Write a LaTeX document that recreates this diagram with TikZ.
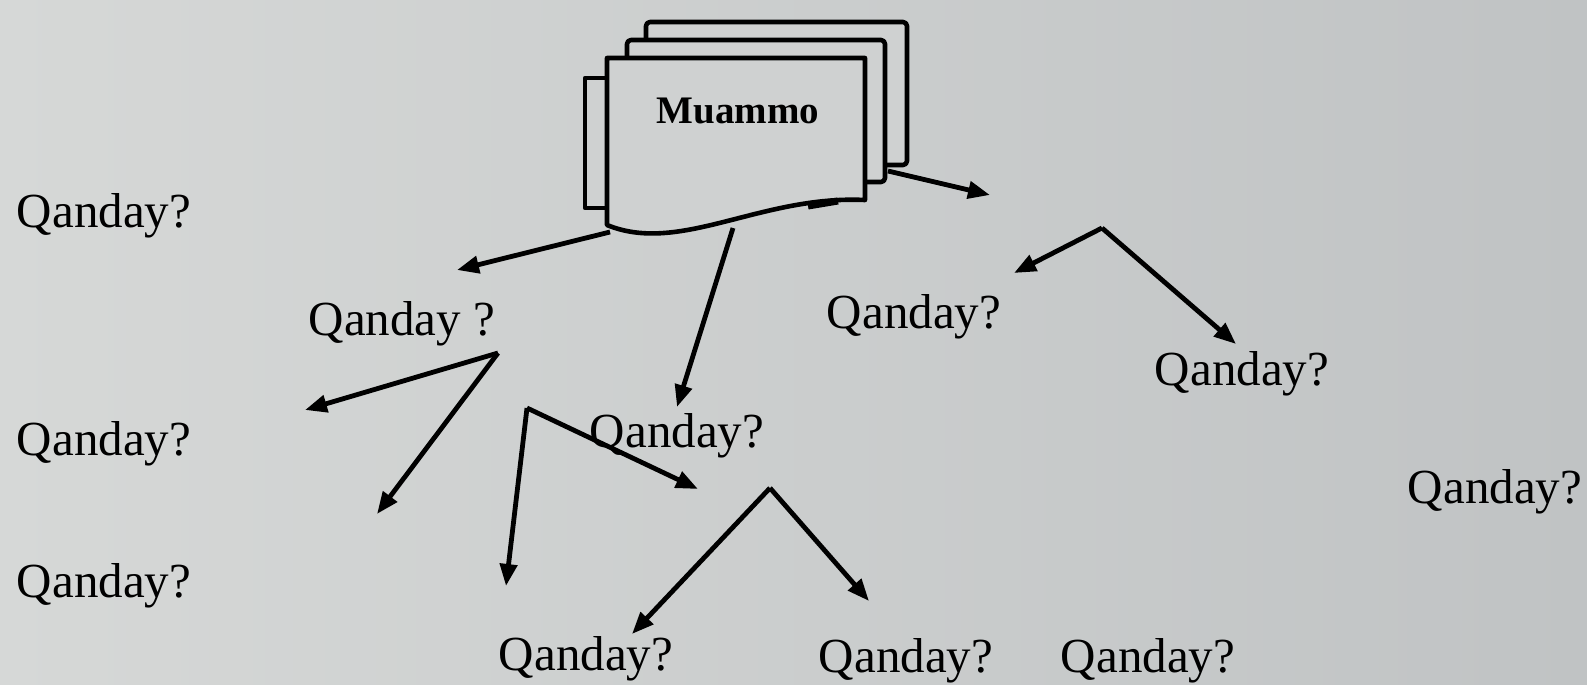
\documentclass[tikz,border=0pt]{standalone}
\usepackage{fontspec}
\setmainfont{Liberation Serif}
\usetikzlibrary{arrows.meta}
\definecolor{bgL}{RGB}{214,216,215}
\definecolor{bgR}{RGB}{192,195,196}
\definecolor{docfill}{RGB}{207,209,209}
\tikzset{
  q/.style={anchor=base,inner sep=0pt,font=\fontsize{24.5}{29}\selectfont},
  arr/.style={line width=2.4pt,-{Triangle[length=11pt,width=8.5pt]}},
  doc/.style={line width=2.3pt,fill=docfill,line join=round},
}
\begin{document}
\begin{tikzpicture}[x=0.5pt,y=-0.5pt]
\shade[left color=bgL,right color=bgR] (0,0) rectangle (1587,685);
\useasboundingbox (0,0) rectangle (1587,685);

% document stack
\draw[doc,rounded corners=2pt] (646,22) rectangle (907,165);
\draw[doc,rounded corners=2pt] (627,40) rectangle (885,182);
\draw[doc] (607,78) -- (585,78) -- (585,208) -- (607,208);
\draw[doc] (607,225) -- (607,58) -- (865,58) -- (865,200)
  .. controls (760,195) and (680,255) .. (607,225) -- cycle;
\draw[line width=3.5pt] (808,206) -- (838,201);
\node[anchor=base,inner sep=0pt,font=\bfseries\fontsize{19.5}{23}\selectfont] (muammo) at (738,123) {Muammo};

% texts
\node[q] (q1) at (104,227) {Qanday?};
\node[q] (q2) at (104,455) {Qanday?};
\node[q] (q3) at (104,597) {Qanday?};
\node[q] (q4) at (402,335) {Qanday ?};
\node[q] (q5) at (677,447) {Qanday?};
\node[q] (q6) at (914,328) {Qanday?};
\node[q] (q7) at (1242,385) {Qanday?};
\node[q] (q8) at (1495,503) {Qanday?};
\node[q] (q9) at (586,670) {Qanday?};
\node[q] (q10) at (906,672) {Qanday?};
\node[q] (q11) at (1148,672) {Qanday?};

% connector coordinates
\coordinate (s1) at (610,232);  \coordinate (e1) at (457,270);
\coordinate (s2) at (733,228);  \coordinate (e2) at (677,407);
\coordinate (s7) at (888,171);  \coordinate (e7) at (990,195);
\coordinate (v1) at (498,353);  \coordinate (v1a) at (305,410); \coordinate (v1b) at (377,514);
\coordinate (v2) at (527,408);  \coordinate (v2a) at (506,586); \coordinate (v2b) at (698,489);
\coordinate (v3) at (770,488);  \coordinate (v3a) at (632,634); \coordinate (v3b) at (869,601);
\coordinate (v4) at (1102,228); \coordinate (v4a) at (1014,273); \coordinate (v4b) at (1236,344);

\draw[arr] (s1) -- (e1);
\draw[arr] (s2) -- (e2);
\draw[arr] (s7) -- (e7);
\draw[arr] (v1) -- (v1a);
\draw[arr] (v1) -- (v1b);
\draw[arr] (v2) -- (v2a);
\draw[arr] (v2) -- (v2b);
\draw[arr] (v3) -- (v3a);
\draw[arr] (v3) -- (v3b);
\draw[arr] (v4) -- (v4a);
\draw[arr] (v4) -- (v4b);
\end{tikzpicture}
\end{document}
